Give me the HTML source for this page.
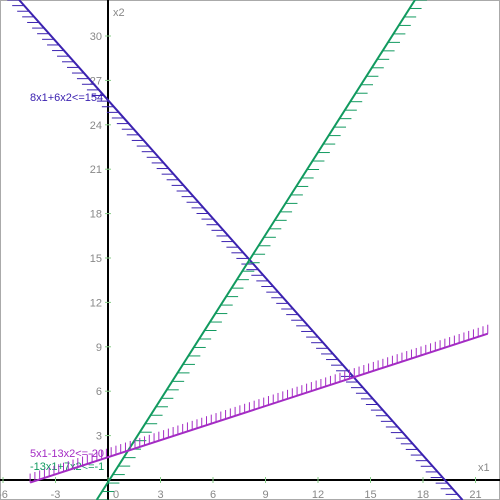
<!DOCTYPE html>
<html><head><meta charset="utf-8"><style>
body{margin:0;background:#fff}
svg{display:block;font-family:"Liberation Sans",sans-serif}
</style></head><body>
<svg id="c" width="500" height="500">
<rect x="0.5" y="0.5" width="499" height="499" fill="#fff" stroke="#aaa"/>
<g id="g"></g>
</svg>
<script>
const xTicks=[-6,-3,0,3,6,9,12,15,18,21];
const yTicks=[3,6,9,12,15,18,21,24,27,30];
const labels=["8x1+6x2<=154","-13x1+7x2<=-1","5x1-13x2<=-20"];
const coefA=[8,-13,5];
const coefB=[6,7,-13];
const rhs=[154,-1,-20];
const colors=["#3b22b0","#119a5f","#a42cc4"];
const NS="http://www.w3.org/2000/svg";
const g=document.getElementById('g');
const OX=108,OY=480,SX=17.5,SY=14.8;
const X=v=>OX+v*SX, Y=v=>OY-v*SY;
function el(t,a,p){const e=document.createElementNS(NS,t);for(const k in a)e.setAttribute(k,a[k]);(p||g).appendChild(e);return e;}
let ax=el('line',{x1:0,y1:OY,x2:500,y2:OY,stroke:'#000','stroke-width':2});


let ay=el('line',{x1:OX,y1:0,x2:OX,y2:500,stroke:'#000','stroke-width':2});


xTicks.forEach(v=>{
 el('line',{x1:X(v),y1:OY-3,x2:X(v),y2:OY+3,stroke:'#8c8'});
 let t=el('text',{x:X(v)+(v===0?5:0),y:498,'font-size':11,fill:'#888','text-anchor':v===0?'start':'middle'});
 t.textContent=v;
 
 
});
yTicks.forEach(v=>{
 el('line',{x1:OX-3,y1:Y(v),x2:OX+3,y2:Y(v),stroke:'#8c8'});
 let t=el('text',{x:102,y:Y(v)+4,'font-size':11,fill:'#888','text-anchor':'end'});
 t.textContent=v;
 
 
});
let tx=el('text',{x:478,y:471,'font-size':11,fill:'#888'});tx.textContent='x1';


let ty=el('text',{x:113,y:16,'font-size':11,fill:'#888'});ty.textContent='x2';


const xmin=-OX/SX,xmax=(500-OX)/SX,ymin=-(500-OY)/SY,ymax=OY/SY;
const starts=[-5.1,-1,-4.45];
const ends=[30,30,21.7];
const steps=[7.5,10,5];
const hlen=[12,12,9];
const labPos=[[30,101],[30,470],[30,457]];
coefA.forEach((a,i)=>{
 const b=coefB[i],c=rhs[i],col=colors[i];
 const grp=el('g',{});
 
 
 const f=x=>(c-a*x)/b;
 let x0=Math.max(xmin,starts[i]),x1=Math.min(xmax,ends[i]);
 const xa=(c-b*ymax)/a, xb=(c-b*ymin)/a;
 const lo=Math.min(xa,xb),hi=Math.max(xa,xb);
 x0=Math.max(x0,lo);x1=Math.min(x1,hi);
 const L=el('line',{x1:X(x0),y1:Y(f(x0)),x2:X(x1),y2:Y(f(x1)),stroke:col,'stroke-width':2},grp);
 
 
 const vertical=Math.abs(b)>Math.abs(a);
 const px0=X(x0),py0=Y(f(x0)),px1=X(x1),py1=Y(f(x1));
 const len=Math.hypot(px1-px0,py1-py0);
 const n=Math.floor(len/steps[i]);
 for(let k=0;k<=n;k++){
  const px=px0+(px1-px0)*k/n, py=py0+(py1-py0)*k/n;
  if(vertical){
   const dir=b<0?-1:1;
   el('line',{x1:px,y1:py,x2:px,y2:py+dir*hlen[i],stroke:col,'stroke-width':1},grp);
  }else{
   const dir=a>0?-1:1;
   el('line',{x1:px,y1:py,x2:px+dir*hlen[i],y2:py,stroke:col,'stroke-width':1},grp);
  }
 }
 const t=el('text',{x:labPos[i][0],y:labPos[i][1],'font-size':11,fill:col},grp);
 t.textContent=labels[i];
 
 
});
</script>
</body></html>
